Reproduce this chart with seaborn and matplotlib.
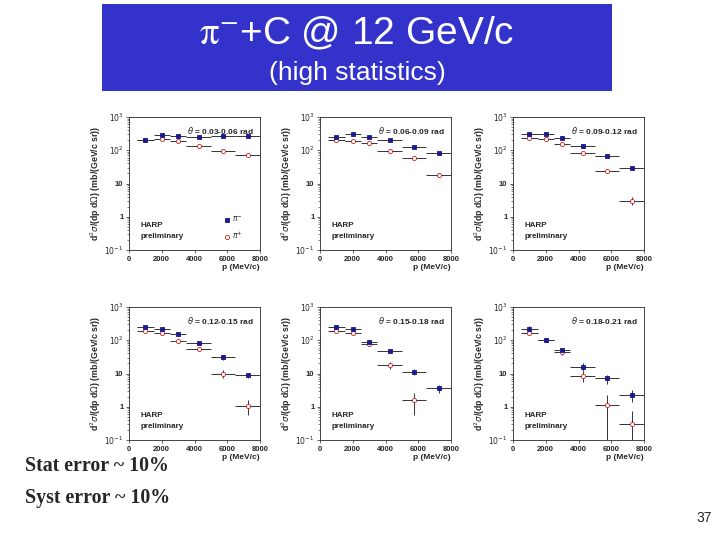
import numpy as np
import seaborn as sns
import matplotlib.pyplot as plt
from matplotlib.patches import Rectangle
from matplotlib.ticker import FixedLocator, FixedFormatter, NullFormatter

# ---- data ----
bin_edges = [500, 1500, 2500, 3500, 5000, 6500, 8000]
theta_bins = ["0.03-0.06", "0.06-0.09", "0.09-0.12",
              "0.12-0.15", "0.15-0.18", "0.18-0.21"]

pim_vals = [[210, 295, 270, 255, 275, 275],
            [257, 310, 245, 198, 127, 80],
            [300, 300, 240, 130, 68, 29],
            [250, 224, 150, 83, 31, 9],
            [257, 217, 89, 48, 11.3, 3.6],
            [215, 105, 52, 16, 7.1, 2.3]]
pim_errs = [[20, 20, 20, 15, 15, 15],
            [20, 20, 18, 14, 10, 7],
            [22, 22, 20, 12, 7, 4],
            [20, 18, 12, 8, 6, 1.5],
            [22, 18, 15, 7, 2.5, 1.0],
            [50, 10, 8, 4, 2.2, 0.9]]
pip_vals = [[200, 216, 186, 138, 97, 72],
            [203, 190, 165, 96, 60, 18],
            [235, 224, 159, 83, 24, 3.0],
            [186, 170, 93, 55, 10, 1.07],
            [190, 168, 79, 18, 1.55, np.nan],
            [170, 100, 44, 8.5, 1.1, 0.3]]
pip_errs = [[15, 15, 12, 10, 7, 6],
            [15, 14, 12, 8, 6, 2.5],
            [18, 16, 12, 8, 4, 0.8],
            [14, 12, 8, 5, 2.5, 0.5],
            [14, 12, 8, 4, 1.0, np.nan],
            [20, 10, 9, 3, 1.2, 0.45]]

x_ticks = [0, 2000, 4000, 6000, 8000]
y_ticks = [0.1, 1, 10, 100, 1000]
y_ticklabels = [r"$10^{-1}$", "1", "10", r"$10^{2}$", r"$10^{3}$"]

sns.set_style("ticks")
plt.rcParams['font.family'] = ['Liberation Sans', 'DejaVu Sans']

fig = plt.figure(figsize=(7.2, 5.4), dpi=100)

# title banner
fig.patches.append(Rectangle((102 / 720, 1 - 91 / 540), 510 / 720, 87 / 540,
                             transform=fig.transFigure, facecolor="#3333cc",
                             edgecolor="none", zorder=0))
fig.text(357 / 720, 1 - 34 / 540, r"$\mathrm{\pi}^{-}$+C @ 12 GeV/c", color="white",
         fontsize=28, ha="center", va="center", math_fontfamily="stix")
fig.text(357 / 720, 1 - 73 / 540, "(high statistics)", color="white",
         fontsize=19, ha="center", va="center")

edges = np.array(bin_edges)
centers = (edges[:-1] + edges[1:]) / 2
halfw = (edges[1:] - edges[:-1]) / 2

col_left = [129, 320, 513]
row_bottom = [250, 440]
aw, ah = 131, 133

for i in range(6):
    r, c = divmod(i, 3)
    ax = fig.add_axes([col_left[c] / 720, 1 - row_bottom[r] / 540, aw / 720, ah / 540])
    ax.set_yscale("log")
    ax.set_xlim(0, 8000)
    ax.set_ylim(0.1, 1000)

    for vals, errs, face, edge, mk, lab in [
            (pip_vals[i], pip_errs[i], "white", "#cc2222", "o", r"$\pi^{+}$"),
            (pim_vals[i], pim_errs[i], "#1a1a8c", "#1a1a8c", "s", r"$\pi^{-}$")]:
        y = np.array(vals, dtype=float)
        e = np.array(errs, dtype=float)
        lo = np.minimum(e, y - 0.1001)
        ax.errorbar(centers, y, xerr=halfw, yerr=[lo, e], fmt="none",
                    ecolor="#333333", elinewidth=0.7, capsize=0, zorder=2)
        sns.scatterplot(x=centers, y=y, ax=ax, marker=mk, s=9, color=face,
                        edgecolor=edge, linewidth=0.6, zorder=3, label=lab)

    ax.yaxis.set_major_locator(FixedLocator(y_ticks))
    ax.yaxis.set_major_formatter(FixedFormatter(y_ticklabels))
    ax.yaxis.set_minor_formatter(NullFormatter())
    ax.set_xticks(x_ticks)
    ax.tick_params(axis="both", labelsize=5.5, length=2.5, width=0.5, pad=1.5)
    ax.tick_params(axis="both", which="minor", length=1.3, width=0.4)
    for lbl in ax.get_xticklabels() + ax.get_yticklabels():
        lbl.set_fontweight("bold")
    for sp in ax.spines.values():
        sp.set_linewidth(0.6)
    ax.set_xlabel("p (MeV/c)", fontsize=6, fontweight="bold", loc="right", labelpad=1)
    ax.set_ylabel(r"d$^2\sigma$/(dp d$\Omega$) (mb/(GeV/c sr))", fontsize=6.3,
                  fontweight="bold", labelpad=1)

    ax.text(0.95, 0.9, r"$\theta$ = " + theta_bins[i] + " rad", transform=ax.transAxes,
            fontsize=6, fontweight="bold", ha="right", va="center")
    ax.text(0.09, 0.185, "HARP", transform=ax.transAxes, fontsize=5.8, fontweight="bold",
            ha="left", va="center")
    ax.text(0.09, 0.105, "preliminary", transform=ax.transAxes, fontsize=5.8,
            fontweight="bold", ha="left", va="center")

    if i == 0:
        h, l = ax.get_legend_handles_labels()
        ax.legend(h[::-1], l[::-1], loc="lower right", bbox_to_anchor=(0.92, 0.02),
                  fontsize=5.5, frameon=False, handletextpad=0.1, handlelength=1.2,
                  borderaxespad=0.4, labelspacing=0.7)
    else:
        ax.get_legend().remove()

fig.text(25 / 720, 1 - 466 / 540, "Stat error ~ 10%", fontsize=14.3, fontweight="bold",
         family=["Liberation Serif", "DejaVu Serif"], ha="left", va="center")
fig.text(25 / 720, 1 - 498 / 540, "Syst error ~ 10%", fontsize=14.3, fontweight="bold",
         family=["Liberation Serif", "DejaVu Serif"], ha="left", va="center")
fig.text(712 / 720, 1 - 518 / 540, "37", fontsize=10, ha="right", va="center")

fig.savefig("out.png", dpi=100)
